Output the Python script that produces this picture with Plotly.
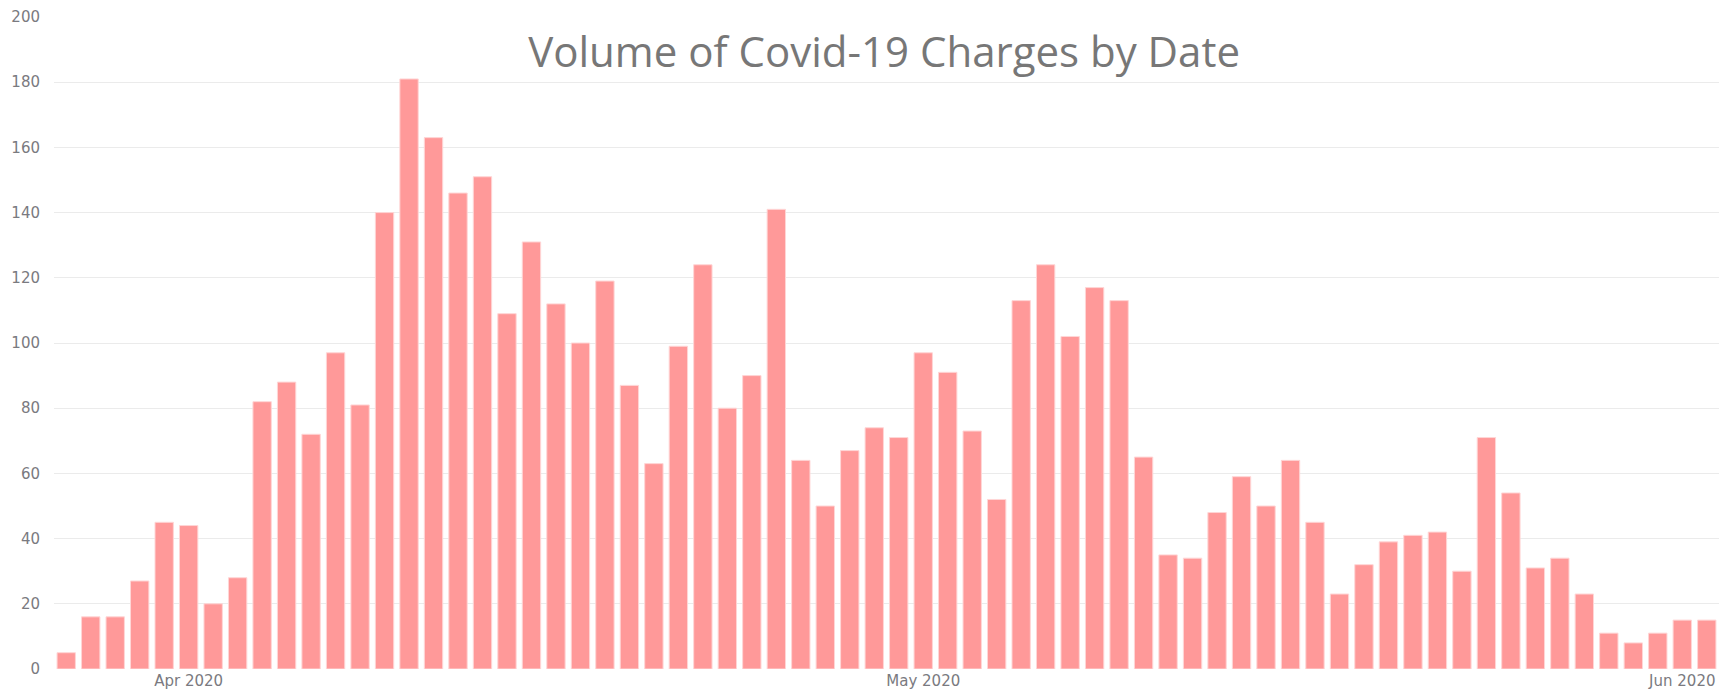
import pandas as pd
import plotly.graph_objects as go

start_date = "2020-03-27"
end_date = "2020-06-02"
dates = pd.date_range(start_date, end_date, freq="D")

charges = [5, 16, 16, 27, 45, 44, 20, 28, 82, 88,
           72, 97, 81, 140, 181, 163, 146, 151, 109, 131,
           112, 100, 119, 87, 63, 99, 124, 80, 90, 141,
           64, 50, 67, 74, 71, 97, 91, 73, 52, 113,
           124, 102, 117, 113, 65, 35, 34, 48, 59, 50,
           64, 45, 23, 32, 39, 41, 42, 30, 71, 54,
           31, 34, 23, 11, 8, 11, 15, 15]

title_text = "Volume of Covid-19 Charges by Date"
y_ticks = [0, 20, 40, 60, 80, 100, 120, 140, 160, 180, 200]

fig = go.Figure(go.Bar(
    x=dates, y=charges,
    marker=dict(color="#FF9999", line=dict(color="#FFD6D6", width=1)),
))

fig.update_layout(
    width=1719, height=690,
    margin=dict(l=54, r=0, t=17, b=21),
    paper_bgcolor="white", plot_bgcolor="white",
    bargap=0.25,
    showlegend=False,
    font=dict(family="DejaVu Sans, Verdana, sans-serif", color="#777"),
    title=dict(text=title_text, x=0.5143, xanchor="center", y=0.9246, yanchor="middle",
               font=dict(size=42, color="#777", family="Open Sans, sans-serif")),
    xaxis=dict(
        range=["2020-03-26 12:00", "2020-06-02 12:00"],
        dtick="M1", tickformat="%b %Y", tick0="2020-04-01",
        showgrid=False, zeroline=False, showline=False, ticks="",
        tickfont=dict(size=15, color="#7a7a80"), automargin=False,
        ticklabelstandoff=1,
    ),
    yaxis=dict(
        range=[0, 200], tickvals=y_ticks,
        gridcolor="#EBEBEB", gridwidth=1, zeroline=False, showline=False,
        tickfont=dict(size=15, color="#7a7a80"), ticks="", automargin=False,
        ticklabelstandoff=13,
    ),
)

fig.write_html("out.html", config={"displayModeBar": False},
               post_script="document.body.style.margin='0';document.body.style.overflow='hidden';")
